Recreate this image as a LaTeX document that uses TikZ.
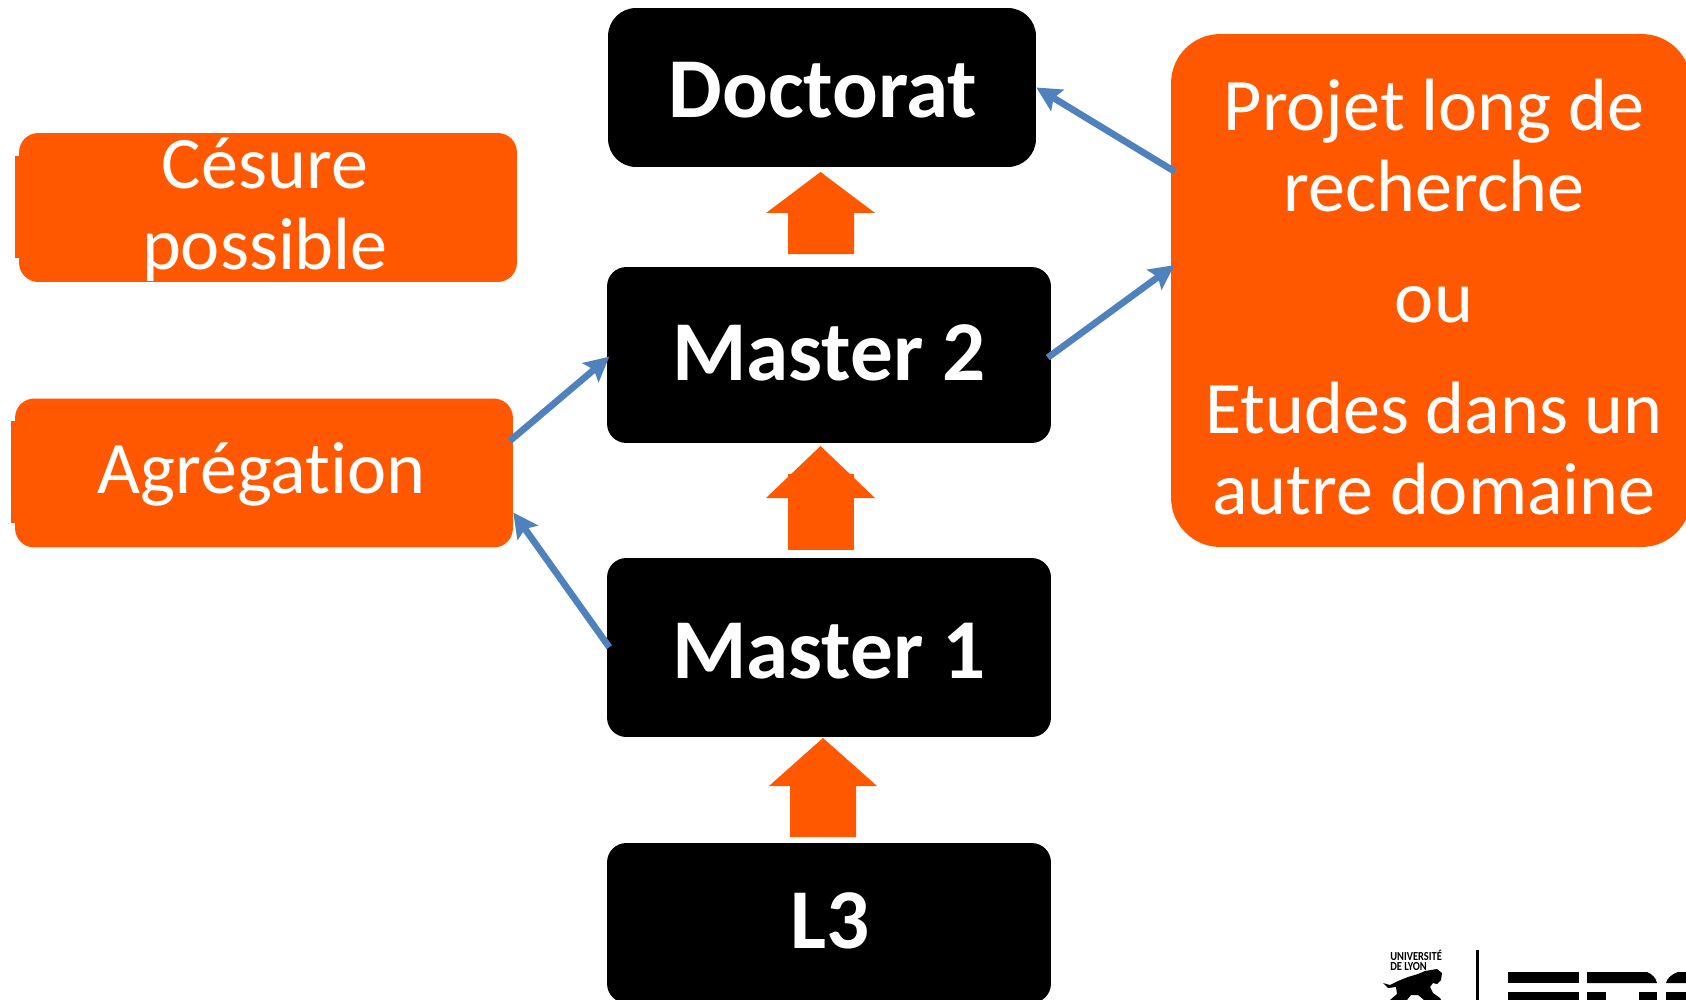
\documentclass[tikz,border=0pt]{standalone}
\usepackage{fontspec}
\setmainfont{Carlito}[Ligatures=NoCommon]
\usetikzlibrary{arrows.meta}

\definecolor{orangeBox}{HTML}{FF5800}
\definecolor{blueLink}{HTML}{4F81BD}

\begin{document}
\begin{tikzpicture}[
      x=0.02cm, y=-0.02cm,
      level/.style={rectangle, rounded corners=11pt, fill=black, inner sep=0pt},
      levelname/.style={text=white, font=\fontsize{48.5}{52}\selectfont\bfseries, inner sep=0pt},
      option/.style={rectangle, rounded corners=11pt, fill=orangeBox, inner sep=0pt},
      optionname/.style={text=white, align=center, font=\fontsize{42.2}{46.1}\selectfont, inner sep=0pt},
      link/.style={draw=blueLink, line width=3.8pt, -{Stealth[length=14pt, width=14pt, inset=2.5pt]}},
      stepup/.style={fill=orangeBox},
      logo/.style={fill=black}
    ]

    \useasboundingbox (0, 0) rectangle (1686, 1000);

    % Draw levels
    \node[level, minimum width=8.56cm, minimum height=3.18cm, rounded corners=16pt] (doctorat) at (822, 87.5) {};
    \node[level, minimum width=8.88cm, minimum height=3.52cm] (master2) at (829, 355) {};
    \node[level, minimum width=8.88cm, minimum height=3.58cm] (master1) at (829, 647.5) {};
    \node[level, minimum width=8.88cm, minimum height=3.2cm] (l3) at (829, 923) {};

    % Level names
    \node[levelname] (doctoratname) at (823, 90) {Doctorat};
    \node[levelname] (master2name) at (829, 353) {Master 2};
    \node[levelname] (master1name) at (829, 651) {Master 1};
    \node[levelname] (l3name) at (830, 921) {L3};

    % Draw options
    \node[option, minimum width=9.96cm, minimum height=2.98cm] (cesure) at (268, 207.5) {};
    \fill[orangeBox] (15, 156) rectangle (20, 258);
    \node[option, minimum width=9.96cm, minimum height=2.98cm] (agregation) at (264, 473) {};
    \fill[orangeBox] (11, 421) rectangle (16, 523);
    \node[option, minimum width=10.4cm, minimum height=10.26cm, rounded corners=28pt] (projet) at (1431, 290.5) {};

    % Option names
    \node[optionname] (cesurename) at (265, 210) {Césure\\possible};
    \node[optionname] (agregationname) at (261.5, 474.6) {Agrégation};
    \node[optionname] (projetname) at (1434, 297) {Projet long de\\recherche\\[17.3pt]ou\\[17.3pt]Etudes dans un\\autre domaine};

    % Draw block arrows
    \fill[stepup] (820.5, 172) -- (875, 213) -- (854, 213) -- (854, 254) -- (788, 254) -- (788, 213) -- (766, 213) -- cycle;
    \fill[stepup] (820.5, 446) -- (875, 498) -- (766, 498) -- cycle;
    \fill[stepup] (788, 474) rectangle (854, 550);
    \fill[stepup] (823, 738) -- (877, 786) -- (856, 786) -- (856, 837) -- (790, 837) -- (790, 786) -- (769, 786) -- cycle;

    % Draw links
    \draw[link, shorten <=-2.5pt] (master1.179) -- (agregation.-9);
    \draw[link, shorten <=-2.5pt, shorten >=-2pt] (agregation.8) -- (master2.-179.4);
    \draw[link, shorten <=-2.5pt, shorten >=-2.5pt] (master2.0.5) -- (projet.175.4);
    \draw[link, shorten <=-3pt] (projet.155.5) -- (doctorat.east);

    % Draw logo
    \node[font=\fontsize{7}{5.6}\selectfont\bfseries, align=left, inner sep=0pt, anchor=north west, xscale=0.85, transform shape] (lyon) at (1390, 950) {UNIVERSITÉ\\DE LYON};
    \fill[logo] (1383, 983) -- (1390, 985) -- (1398, 981) -- (1408, 977) -- (1418, 974) -- (1425, 971) -- (1437, 969) -- (1442, 973) -- (1441, 980) -- (1437, 984) -- (1433, 983) -- (1430, 987) -- (1433, 993) -- (1440, 998) -- (1441, 1000) -- (1424, 1000) -- (1418, 995) -- (1411, 995) -- (1407, 1000) -- (1390, 1000) -- (1397, 994) -- (1396, 987) -- (1388, 988) -- cycle;
    \fill[logo] (1476, 950) rectangle (1478.5, 1000);
    \fill[logo] (1508, 972) rectangle (1579, 983);
    \fill[logo] (1508, 992) rectangle (1579, 1000);
    \fill[logo] (1587, 972) -- (1647, 972) .. controls (1652, 974) and (1656, 978) .. (1657, 983) -- (1587, 983) -- cycle;
    \fill[logo] (1587, 992) rectangle (1606, 1000);
    \fill[logo] (1639, 992) rectangle (1657, 1000);
    \fill[logo] (1686, 972) -- (1678, 972) .. controls (1672, 974) and (1667, 978) .. (1666, 983) -- (1686, 983) -- cycle;
    \fill[logo] (1666, 992) rectangle (1686, 1000);

\end{tikzpicture}
\end{document}
